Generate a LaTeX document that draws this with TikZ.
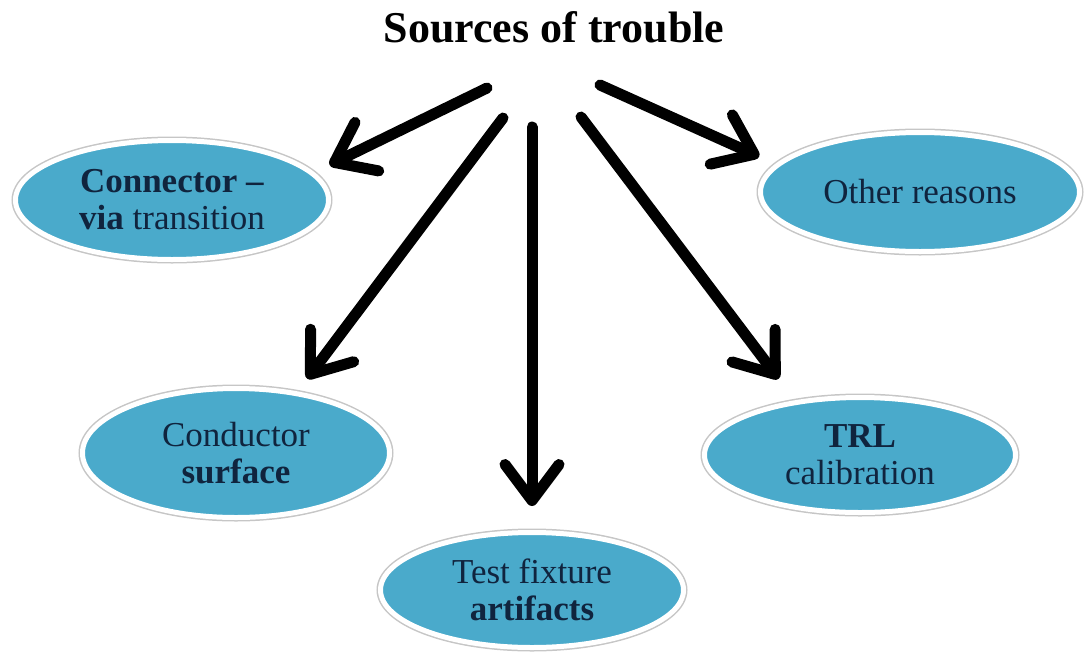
\documentclass[tikz,border=0pt]{standalone}
\usepackage{fontspec}
\setmainfont{Liberation Serif}
\usetikzlibrary{shapes.geometric, arrows.meta}

\definecolor{bubblefill}{HTML}{4AAACB}
\definecolor{bubbletext}{HTML}{10243E}

\begin{document}
\begin{tikzpicture}[
    x=1pt, y=-1pt,
    bubble/.style={ellipse, fill=bubblefill, draw=white, line width=5pt, inner sep=0pt,
        align=center, text=bubbletext, font=\fontsize{35}{37}\selectfont,
        preaction={draw=gray!45, line width=8pt}},
    arr/.style={line width=11pt, line cap=round, -{Straight Barb[length=36pt, width=54pt, round]}}
]

\path[use as bounding box] (0,0) rectangle (1084,659);

% Title
\node[font=\fontsize{44}{50}\selectfont\bfseries, anchor=base] (T) at (554,42) {Sources of trouble};

% Sources
\node[bubble, minimum width=313pt, minimum height=119pt] (conn) at (172,200) {\textbf{Connector –}\\\textbf{via} transition};
\node[bubble, minimum width=319pt, minimum height=119pt] (other) at (920,192) {Other reasons};
\node[bubble, minimum width=307pt, minimum height=129pt] (cond) at (236,453) {Conductor\\\textbf{surface}};
\node[bubble, minimum width=303pt, minimum height=115pt] (fixt) at (532,590) {Test fixture\\\textbf{artifacts}};
\node[bubble, minimum width=311pt, minimum height=115pt] (trl) at (860,455) {\textbf{TRL}\\calibration};

% Arrow starts below the title
\coordinate (s1) at (487,88);
\coordinate (s2) at (503,118);
\coordinate (s3) at (532,127);
\coordinate (s4) at (581,117);
\coordinate (s5) at (600,85);

% Arrows
\draw[arr, shorten >=17pt] (s1) -- (conn.11);
\draw[arr, shorten >=16pt] (s2) -- (cond.45);
\draw[arr, shorten >=24pt] (s3) -- (fixt.north);
\draw[arr, shorten >=27pt] (s4) -- (trl.140);
\draw[arr, shorten >=18pt] (s5) -- (other.169);

\end{tikzpicture}
\end{document}
